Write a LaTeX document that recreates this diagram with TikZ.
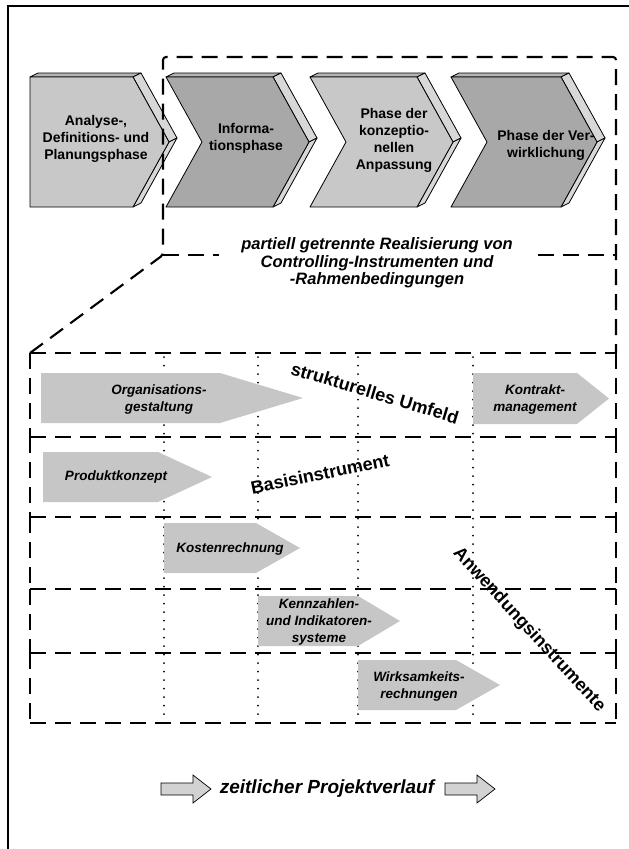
\documentclass[tikz,border=0pt]{standalone}
\usepackage{fontspec}
\setmainfont{Liberation Sans}
\usepackage{tikz}
\definecolor{PhaseLight}{HTML}{C8C8C8}
\definecolor{PhaseDark}{HTML}{A8A8A8}
\definecolor{PhaseSide}{HTML}{D8D8D8}
\definecolor{PhaseTop}{HTML}{B4B4B4}
\definecolor{InstrFill}{HTML}{C6C6C6}
\definecolor{ArrowFill}{HTML}{D2D2D2}
\tikzset{
    phaseline/.style={draw=black,line width=0.8pt,line join=round},
    phasetext/.style={align=center,font=\fontsize{14}{17}\selectfont\bfseries},
    instrtext/.style={align=center,font=\fontsize{13.5}{17}\selectfont\bfseries\itshape},
    fieldtext/.style={font=\fontsize{18}{20}\selectfont\bfseries},
    frameline/.style={line width=2.1pt,dash pattern=on 16pt off 9pt},
    colline/.style={line width=2pt,line cap=round,dash pattern=on 0pt off 8.5pt},
}
\newcommand\Phase[7]{%
    \filldraw[phaseline,fill=PhaseTop] (#2,77) -- (#3,77) -- (#3+8,73) -- (#2+8,73) -- cycle;
    \filldraw[phaseline,fill=PhaseSide] (#3,77) -- (#3+36,142) -- (#3+44,138) -- (#3+8,73) -- cycle;
    \filldraw[phaseline,fill=PhaseSide] (#3+36,142) -- (#3,207) -- (#3+8,203) -- (#3+44,138) -- cycle;
    \filldraw[phaseline,fill=#5] (#2,77) -- (#3,77) -- (#3+36,142) -- (#3,207) -- (#2,207) -- (#2+#4,142) -- cycle;
    \node[phasetext] (#1) at (#6) {#7};
}
\newcommand\Instrument[8]{%
    \fill[InstrFill] (#2,#5) -- (#3,#5) -- (#4,{(#5+#6)/2}) -- (#3,#6) -- (#2,#6) -- cycle;
    \node[instrtext] (#1) at (#7) {#8};
}
\newcommand\TimeArrow[2]{%
    \filldraw[line width=0.7pt,fill=ArrowFill] (#2,783) -- (#2+32,783) -- (#2+32,775) -- (#2+50,789)
        -- (#2+32,803) -- (#2+32,795) -- (#2,795) -- cycle;
    \coordinate (#1) at (#2+25,789);
}
\begin{document}
\begin{tikzpicture}[x=1pt,y=-1pt]
    \useasboundingbox (0,0) rectangle (629,849);
    \draw[line width=2.4pt] (8,849) -- (8,6) -- (629,6);
    % phases
    \Phase{analyse}{30}{133}{0}{PhaseLight}{96,139}{Analyse-,\\Definitions- und\\Planungsphase}
    \Phase{info}{166}{273}{36}{PhaseDark}{246,138}{Informa-\\tionsphase}
    \Phase{anpassung}{310}{417}{36}{PhaseLight}{394,140}{Phase der\\konzeptio-\\nellen\\Anpassung}
    \Phase{verwirkl}{451}{561}{36}{PhaseDark}{546,145}{Phase der Ver-\\wirklichung}
    % dashed frames
    \coordinate (BoxLow) at (163,255);
    \coordinate (GridTop) at (30,353);
    \draw[frameline,rounded corners=3pt] (GridTop) -- (BoxLow) -- (163,57) -- (616,57) -- (616,353);
    \draw[frameline] (BoxLow) -- (616,255);
    \node[fill=white,inner xsep=22pt,inner ysep=1pt,align=center,
        font=\fontsize{16.5}{17.5}\selectfont\bfseries\itshape] (partiell) at (377,263)
        {partiell getrennte Realisierung von\\Controlling-Instrumenten und\\-Rahmenbedingungen};
    \foreach \y in {353,437,517,589,653,723}
        \draw[frameline] (30,\y) -- (616,\y);
    \foreach \ya/\yb in {353/437,437/517,517/589,589/653,653/723} {
        \draw[frameline] (30,\ya) -- (30,\yb);
        \draw[frameline] (616,\ya) -- (616,\yb);
    }
    \foreach \x in {164,258,358,473}
        \draw[colline] (\x,357) -- (\x,722);
    % instruments
    \Instrument{organisation}{41}{220}{303}{373}{423}{159,400}{Organisations-\\gestaltung}
    \Instrument{kontrakt}{473}{577}{609}{373}{424}{535,400}{Kontrakt-\\management}
    \Instrument{produkt}{43}{158}{212}{452}{502}{116,477}{Produktkonzept}
    \Instrument{kosten}{164}{256}{300}{523}{573}{230,549}{Kostenrechnung}
    \Instrument{kennzahlen}{258}{358}{400}{596}{646}{319,622}{Kennzahlen-\\und Indikatoren-\\systeme}
    \Instrument{wirksam}{358}{456}{500}{660}{710}{419,686}{Wirksamkeits-\\rechnungen}
    \node[fieldtext,rotate=-16.7] (umfeld) at (375,393) {strukturelles Umfeld};
    \node[fieldtext,rotate=11.7] (basis) at (320,474) {Basisinstrument};
    \node[fieldtext,rotate=-47.5] (anwendung) at (529,630) {Anwendungsinstrumente};
    % time line
    \TimeArrow{zeitL}{161}
    \TimeArrow{zeitR}{445}
    \node[font=\fontsize{19}{21}\selectfont\bfseries\itshape] (verlauf) at (327,789) {zeitlicher Projektverlauf};
\end{tikzpicture}
\end{document}
